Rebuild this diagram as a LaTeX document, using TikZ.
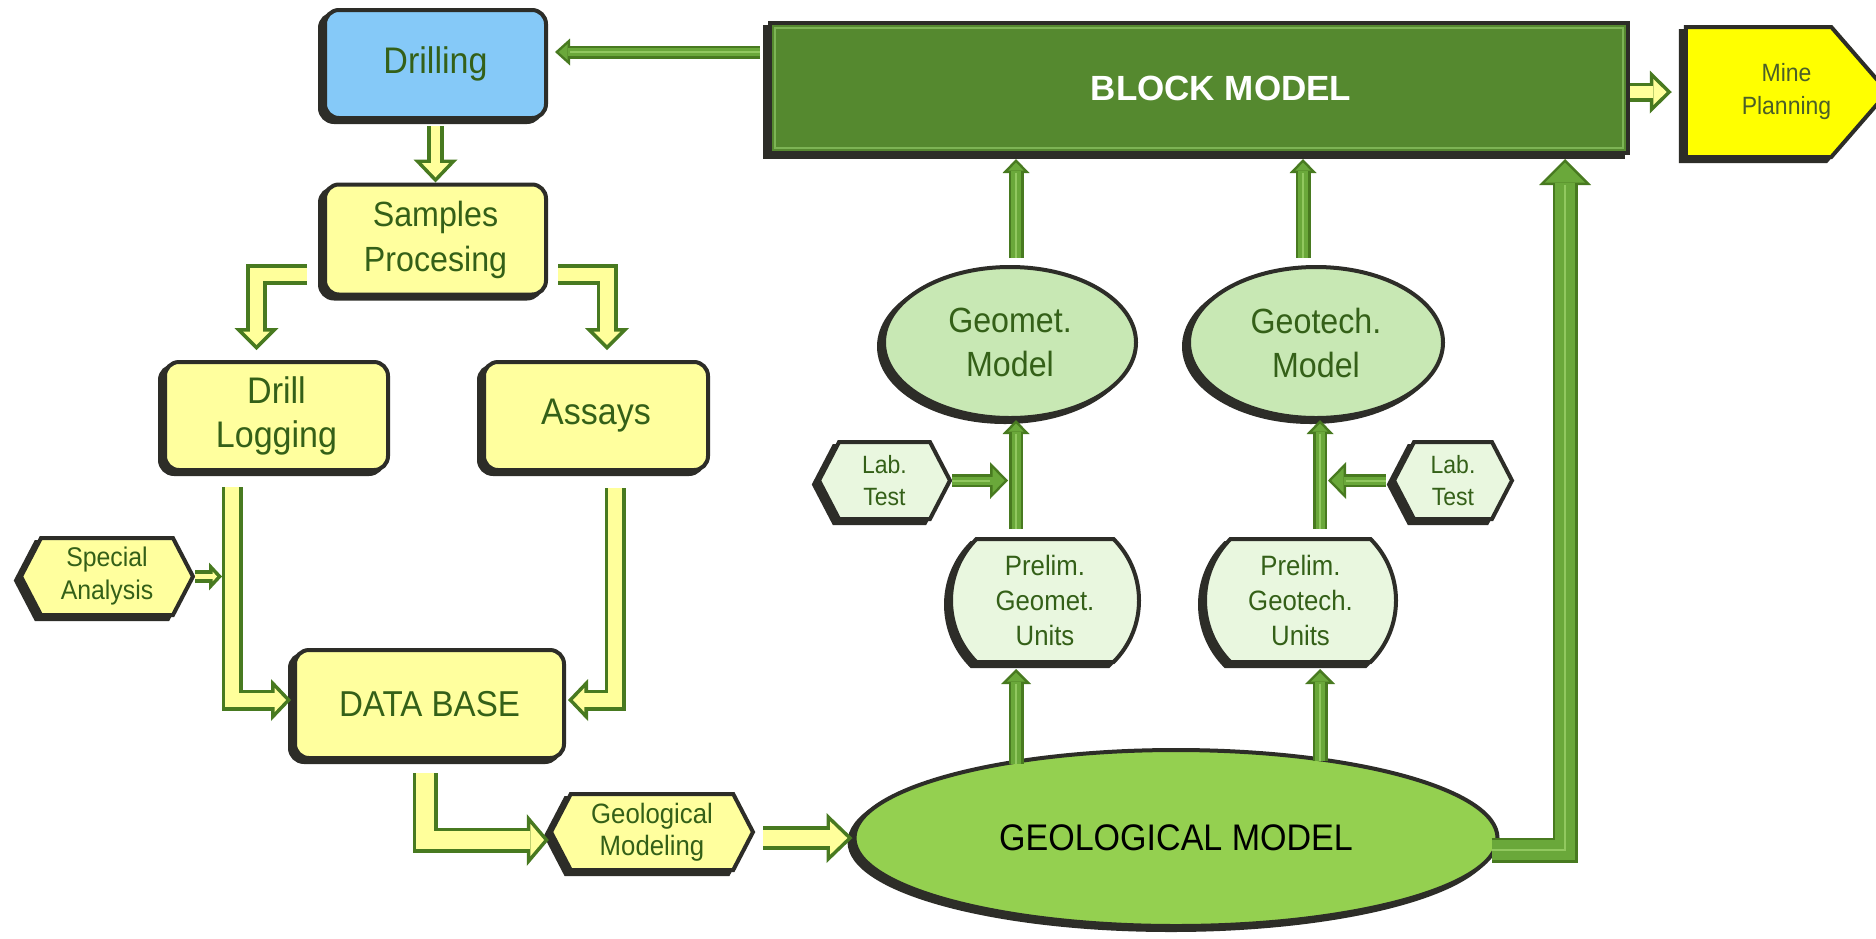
\documentclass[tikz,border=0pt]{standalone}
\usepackage{fontspec}
\setmainfont{Liberation Sans}[FakeStretch=0.92]
\newfontfamily\blkfont{Liberation Sans}
\usetikzlibrary{shapes.geometric,shapes.misc,shapes.symbols,arrows.meta,calc,shadows}
\definecolor{frame}{RGB}{45,45,40}
\definecolor{txtg}{RGB}{52,96,24}
\definecolor{blue1}{RGB}{133,201,248}
\definecolor{yel}{RGB}{255,255,158}
\definecolor{mineyel}{RGB}{255,255,0}
\definecolor{blkg}{RGB}{85,137,47}
\definecolor{blkhl}{RGB}{125,180,85}
\definecolor{lgreen}{RGB}{200,232,180}
\definecolor{vlgreen}{RGB}{233,247,223}
\definecolor{geolg}{RGB}{148,208,80}
\definecolor{arrg}{RGB}{72,122,32}
\definecolor{arrin}{RGB}{106,168,58}
\definecolor{arrhl}{RGB}{145,200,95}
\definecolor{arry}{RGB}{255,255,155}
\definecolor{minetxt}{RGB}{75,95,40}
\begin{document}
\begin{tikzpicture}[x=1pt,y=-1pt,
  base/.style={draw=frame, line width=4pt, text=txtg, align=center, inner sep=0pt,
     general shadow={fill=frame, draw=frame, line width=4pt, shadow xshift=-5pt, shadow yshift=-4pt}},
  rbox/.style={base, rectangle, rounded corners=14pt},
  hexa/.style={base, signal, signal to=east and west, signal pointer angle=125},
  ell/.style={base, ellipse},
  prelim/.style={base, rounded rectangle, rounded rectangle arc length=90, fill=vlgreen},
  yarr/.style n args={3}{
    /utils/exec={%
      \pgfmathsetmacro\aW{#1}\pgfmathsetmacro\aHW{#2}\pgfmathsetmacro\aHL{#3}%
      \pgfmathsetmacro\aAl{atan(\aHW/2/\aHL)}%
      \pgfmathsetmacro\aD{3.6/sin(\aAl)}%
      \pgfmathsetmacro\aIL{\aHL-3.6-\aD}%
      \pgfmathsetmacro\aIW{\aIL*\aHW/\aHL}%
      \pgfmathsetmacro\aIS{\aW-7.2}},
    draw=none,
    postaction={draw=arrg, line width=\aW pt, line join=miter,
      -{Triangle[width=\aHW pt, length=\aHL pt, line width=0pt]}},
    postaction={draw=arry, line width=\aIS pt, line join=miter, shorten >=\aD pt,
      -{Triangle[width=\aIW pt, length=\aIL pt, line width=0pt]}}},
  garr/.style n args={3}{
    /utils/exec={%
      \pgfmathsetmacro\aW{#1}\pgfmathsetmacro\aHW{#2}\pgfmathsetmacro\aHL{#3}%
      \pgfmathsetmacro\aAl{atan(\aHW/2/\aHL)}%
      \pgfmathsetmacro\aD{2.5/sin(\aAl)}%
      \pgfmathsetmacro\aIL{\aHL-2.5-\aD}%
      \pgfmathsetmacro\aIW{\aIL*\aHW/\aHL}%
      \pgfmathsetmacro\aIS{\aW-5}},
    draw=none,
    postaction={draw=arrg, line width=\aW pt, line join=miter,
      -{Triangle[width=\aHW pt, length=\aHL pt, line width=0pt]}},
    postaction={draw=arrin, line width=\aIS pt, line join=miter, shorten >=\aD pt,
      -{Triangle[width=\aIW pt, length=\aIL pt, line width=0pt]}},
    postaction={draw=arrhl, line width=2pt, line join=miter, shorten >=\aHL pt}}
]
\useasboundingbox (0,0) rectangle (1876,938);
\fill[white] (0,0) rectangle (1876,938);

% ---------- nodes ----------
\node[rbox, fill=blue1, minimum width=221pt, minimum height=108pt,
      font=\fontsize{37}{44}\selectfont] (drill) at (435.5,64) {Drilling};
\node[rbox, fill=yel, minimum width=221pt, minimum height=110pt,
      font=\fontsize{35}{45}\selectfont] (samp) at (435.5,239.5) {Samples\\Procesing};
\node[rbox, fill=yel, minimum width=223pt, minimum height=108pt,
      font=\fontsize{37}{44}\selectfont] (dlog) at (276.5,416) {Drill\\Logging};
\node[rbox, fill=yel, minimum width=224pt, minimum height=108pt,
      font=\fontsize{37}{44}\selectfont] (assay) at (596,416) {Assays};
\node[rbox, fill=yel, minimum width=269pt, minimum height=108pt,
      font=\fontsize{36}{44}\selectfont] (db) at (429.5,704) {DATA BASE};
\node[hexa, fill=yel, minimum width=172pt, minimum height=77pt,
      font=\fontsize{27}{33}\selectfont] (spec) at (107,576.5) {Special\\Analysis};
\node[hexa, fill=yel, minimum width=202pt, minimum height=76pt,
      font=\fontsize{28}{32}\selectfont] (gmod) at (652,832) {Geological\\Modeling};
\node[ell, fill=geolg, text=black, minimum width=643pt, minimum height=176pt,
      font=\fontsize{37}{44}\selectfont] (geol) at (1176,838) {GEOLOGICAL MODEL};
\node[base, rectangle, fill=blkg, text=white, minimum width=858pt, minimum height=130pt,
      font=\blkfont\bfseries\fontsize{35}{40}\selectfont] (blk) at (1199,88) {\hspace*{44pt}BLOCK MODEL};
\draw[blkhl, line width=2pt] ([shift={(7,7)}]blk.north west) rectangle ([shift={(-7,-7)}]blk.south east);
\node[base, signal, signal to=east, signal pointer angle=98, fill=mineyel, text=minetxt,
      minimum width=179pt, minimum height=130pt,
      font=\fontsize{25}{33}\selectfont] (mine) at (1758.5,92) {\hspace*{56pt}Mine\\\hspace*{56pt}Planning};
\node[ell, fill=lgreen, minimum width=252pt, minimum height=151pt,
      font=\fontsize{35}{44}\selectfont] (geomet) at (1010,342.5) {Geomet.\\Model};
\node[ell, fill=lgreen, minimum width=254pt, minimum height=151pt,
      font=\fontsize{35}{44}\selectfont] (geotech) at (1316,342.5) {Geotech.\\Model};
\node[prelim, minimum width=188pt, minimum height=123pt,
      font=\fontsize{28}{35}\selectfont] (pre1) at (1045,600.5) {Prelim.\\Geomet.\\Units};
\node[prelim, minimum width=191pt, minimum height=123pt,
      font=\fontsize{28}{35}\selectfont] (pre2) at (1300.5,600.5) {Prelim.\\Geotech.\\Units};
\node[hexa, fill=vlgreen, minimum width=131pt, minimum height=77pt,
      font=\fontsize{25}{32}\selectfont] (lab1) at (884.5,480.5) {Lab.\\Test};
\node[hexa, fill=vlgreen, minimum width=118pt, minimum height=77pt,
      font=\fontsize{25}{32}\selectfont] (lab2) at (1453,480.5) {Lab.\\Test};

% ---------- yellow arrows ----------
\draw[yarr={17}{44}{23}] ([yshift=-6pt]drill.south) -- (samp.north);
\coordinate (a2s) at ([xshift=-16pt,yshift=-35pt]samp.west);
\coordinate (a2e) at ([xshift=-20pt,yshift=10pt]dlog.north);
\draw[yarr={21}{44}{22}] (a2s) -| (a2e);
\coordinate (a3s) at ([xshift=10pt,yshift=-35pt]samp.east);
\coordinate (a3e) at ([xshift=11pt,yshift=10pt]assay.north);
\draw[yarr={21}{44}{22}] (a3s) -| (a3e);
\coordinate (a4s) at ([xshift=-44.5pt,yshift=-15pt]dlog.south);
\coordinate (a4e) at ([xshift=-2pt,yshift=4pt]db.west);
\draw[yarr={21}{42}{20}] (a4s) |- (a4e);
\coordinate (a5s) at ([xshift=19pt,yshift=-16pt]assay.south);
\coordinate (a5e) at ([xshift=2pt,yshift=4pt]db.east);
\draw[yarr={21}{42}{20}] (a5s) |- (a5e);
\path (spec.east -| a4s) ++(-10,0) coordinate (a6e);
\draw[yarr={13}{28}{13}] (spec.east) -- (a6e);
\coordinate (a7s) at ([xshift=-4.5pt,yshift=-13pt]db.south);
\coordinate (a7e) at ([yshift=-8pt]gmod.west);
\draw[yarr={25}{52}{22}] (a7s) |- (a7e);
\coordinate (a8s) at ([xshift=8pt,yshift=-6pt]gmod.east);
\draw[yarr={24}{50}{26}] (a8s) -- (a8s -| geol.west);
\coordinate (a9s) at ([yshift=-4pt]blk.east);
\path (a9s -| mine.west) ++(-12,0) coordinate (a9e);
\draw[yarr={19}{43}{22}] (a9s) -- (a9e);

% ---------- green arrows ----------
\coordinate (g1s) at ([xshift=-8pt,yshift=36pt]blk.west);
\path (g1s -| drill.east) ++(7,0) coordinate (g1e);
\draw[garr={13}{27}{15}] (g1s) -- (g1e);
\path (geomet.north) ++(6,-7) coordinate (g2s);
\path (g2s |- blk.south) ++(0,4) coordinate (g2e);
\draw[garr={15}{27}{14}] (g2s) -- (g2e);
\path (geotech.north) ++(-13,-7) coordinate (g3s);
\path (g3s |- blk.south) ++(0,4) coordinate (g3e);
\draw[garr={15}{27}{14}] (g3s) -- (g3e);
\path (pre1.north) ++(-29,-8) coordinate (g4s);
\draw[garr={14}{27}{14}] (g4s) -- (g4s |- geomet.south);
\path (pre2.north) ++(19.5,-8) coordinate (g5s);
\draw[garr={14}{27}{14}] (g5s) -- (g5s |- geotech.south);
\path (lab1.east -| g4s) ++(-8,0) coordinate (g6e);
\draw[garr={13}{37}{18}] (lab1.east) -- (g6e);
\coordinate (g7s) at ([xshift=-6pt]lab2.west);
\path (lab2.west -| g5s) ++(8,0) coordinate (g7e);
\draw[garr={13}{37}{18}] (g7s) -- (g7e);
\path (pre1.south) ++(-29,5) coordinate (g8e);
\path (g8e |- geol.north) ++(0,16) coordinate (g8s);
\draw[garr={15}{30}{15}] (g8s) -- (g8e);
\path (pre2.south) ++(19.5,5) coordinate (g9e);
\path (g9e |- geol.north) ++(0,13) coordinate (g9s);
\draw[garr={15}{30}{15}] (g9s) -- (g9e);
\path (geol.east) ++(-8,12) coordinate (g10s);
\path (blk.south) ++(366,4) coordinate (g10e);
\draw[garr={25}{52}{26}] (g10s) -| (g10e);
\end{tikzpicture}
\end{document}
